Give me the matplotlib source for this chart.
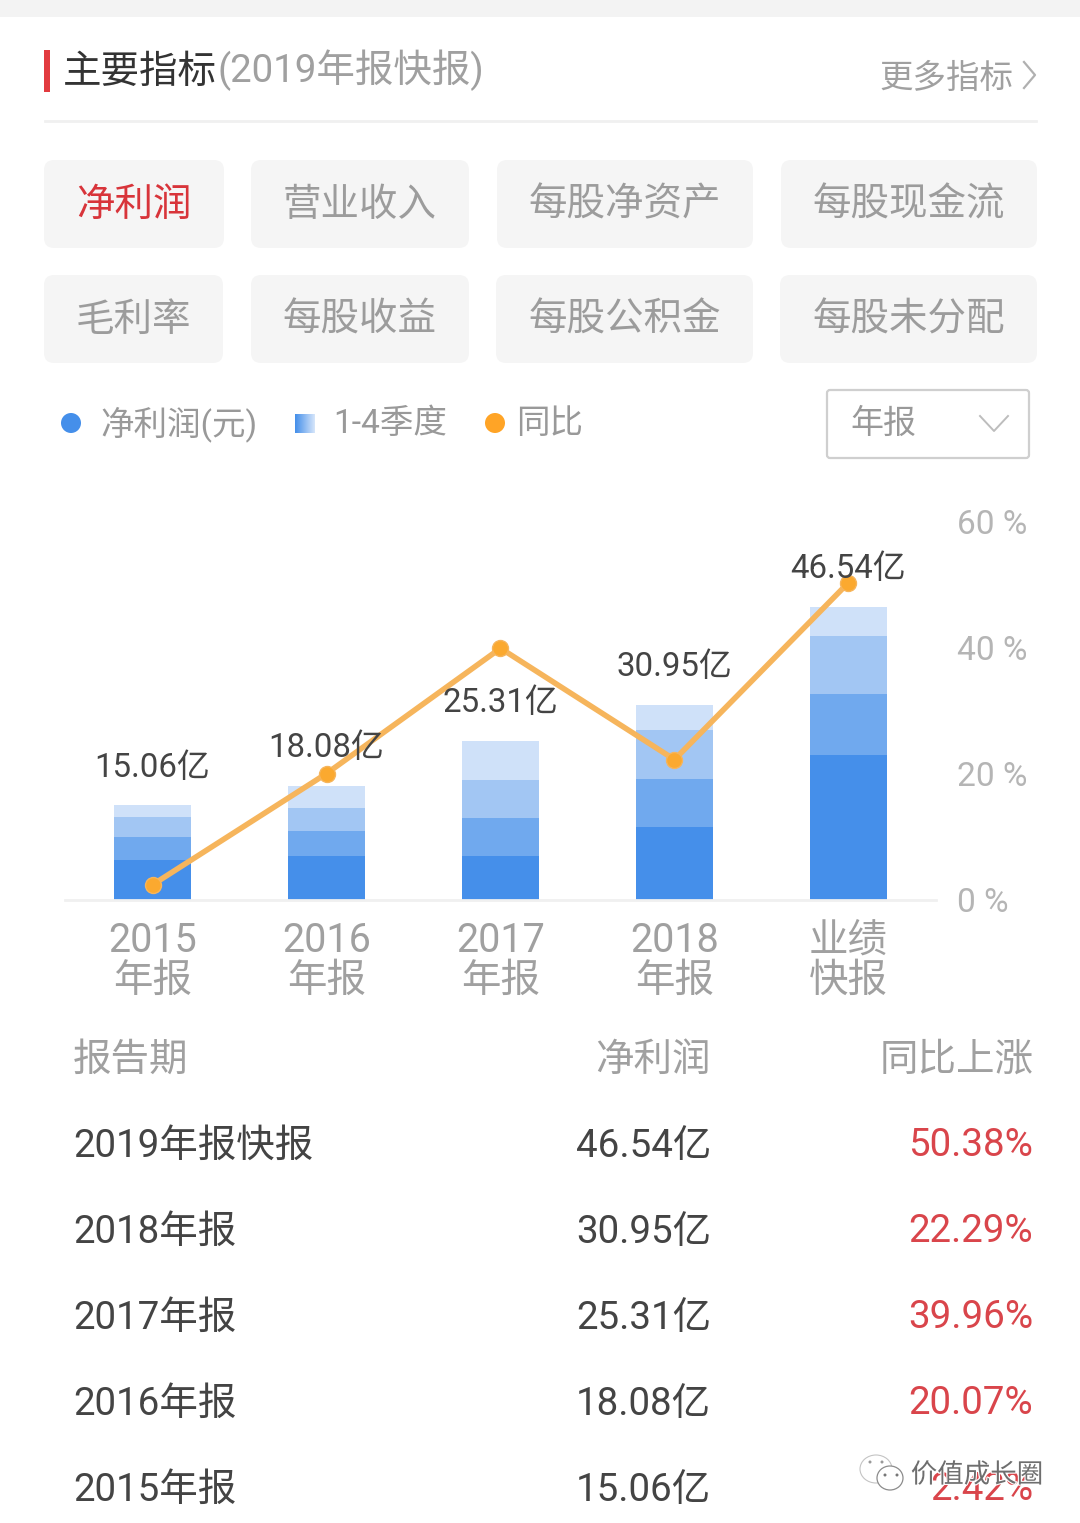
import matplotlib
matplotlib.use("Agg")
import matplotlib.pyplot as plt
import numpy as np
from matplotlib.patches import FancyBboxPatch, Rectangle, Ellipse
import matplotlib.patheffects as pe

plt.rcParams['font.family'] = ['Roboto', 'Noto Sans CJK SC', 'DejaVu Sans']

periods = ['2015\n年报', '2016\n年报', '2017\n年报', '2018\n年报', '业绩\n快报']
q1 = [6.35, 6.98, 6.98, 11.60, 23.00]
q2 = [3.65, 3.97, 6.03, 7.60, 9.70]
q3 = [3.17, 3.65, 6.03, 7.80, 9.20]
q4 = [1.89, 3.48, 6.27, 3.95, 4.64]
yoy = [2.42, 20.07, 39.96, 22.29, 50.38]
profit_labels = ['15.06亿', '18.08亿', '25.31亿', '30.95亿', '46.54亿']

row_names = ['2019年报快报', '2018年报', '2017年报', '2016年报', '2015年报']
row_profit = ['46.54亿', '30.95亿', '25.31亿', '18.08亿', '15.06亿']
row_yoy = ['50.38%', '22.29%', '39.96%', '20.07%', '2.42%']
buttons_row1 = ['净利润', '营业收入', '每股净资产', '每股现金流']
buttons_row2 = ['毛利率', '每股收益', '每股公积金', '每股未分配']
pct_ticks = [0, 20, 40, 60]
seg_colors = ['#458FEA', '#70A9EE', '#A2C6F3', '#CFE1F9']

W, H = 1080, 1523
fig = plt.figure(figsize=(W / 100, H / 100), dpi=100, facecolor='white')


def px(s):
    return s * 0.72


# page overlay in pixel coordinates
ui = fig.add_axes([0, 0, 1, 1], zorder=3)
ui.set_xlim(0, W)
ui.set_ylim(H, 0)
ui.axis('off')
ui.patch.set_alpha(0)

ui.add_patch(Rectangle((0, 0), W, 17, fc='#F3F3F3', ec='none'))
ui.add_patch(Rectangle((44, 50), 6, 42, fc='#E23B3F', ec='none'))
ui.text(63, 72, '主要指标', fontsize=px(38.5), color='#333333', va='center', ha='left')
ui.text(218, 70, '(2019年报快报)', fontsize=px(38.5), color='#A0A0A0', va='center', ha='left')
ui.text(879, 79, '更多指标', fontsize=px(33.5), color='#A0A0A0', va='center', ha='left')
ui.plot([1024, 1035, 1024], [62, 75, 88], color='#B0B0B0', lw=1.6)
ui.plot([45, 1036], [121, 121], color='#F0F0F0', lw=2)


def button(x0, x1, y0, y1, label, color='#9C9C9C'):
    ui.add_patch(FancyBboxPatch((x0 + 10, y0 + 10), x1 - x0 - 20, y1 - y0 - 20,
                                boxstyle='round,pad=10,rounding_size=10',
                                fc='#F5F5F5', ec='none'))
    ui.text((x0 + x1) / 2, (y0 + y1) / 2 + 1, label, fontsize=px(38.5), color=color,
            ha='center', va='center')


xs1 = [(44, 224), (251, 469), (497, 753), (781, 1037)]
xs2 = [(44, 223), (251, 469), (496, 753), (780, 1037)]
for i, (x, lab) in enumerate(zip(xs1, buttons_row1)):
    button(x[0], x[1], 160, 248, lab, '#D8343A' if i == 0 else '#9C9C9C')
for x, lab in zip(xs2, buttons_row2):
    button(x[0], x[1], 275, 363, lab)

# legend
ui.add_patch(Ellipse((71, 423), 20, 20, fc='#458FEA', ec='none'))
ui.text(100, 424, '净利润(元)', fontsize=px(33.5), color='#999999', va='center', ha='left')
grad = np.linspace(0, 1, 32).reshape(1, -1)
cm = matplotlib.colors.LinearSegmentedColormap.from_list('g', ['#458FEA', '#D5E5FA'])
ui.imshow(grad, extent=(295, 315, 433, 414), cmap=cm, aspect='auto', zorder=2)
ui.set_xlim(0, W)
ui.set_ylim(H, 0)
ui.text(333, 424, '1-4季度', fontsize=px(33.5), color='#999999', va='center', ha='left')
ui.add_patch(Ellipse((495, 423), 20, 20, fc='#FFA426', ec='none'))
ui.text(516, 424, '同比', fontsize=px(33.5), color='#999999', va='center', ha='left')

# dropdown
ui.add_patch(FancyBboxPatch((828, 391), 200, 66, boxstyle='round,pad=1,rounding_size=3',
                            fc='white', ec='#CFCFCF', lw=1.6))
ui.text(850, 424, '年报', fontsize=px(33), color='#999999', va='center', ha='left')
ui.plot([980, 994, 1008], [416, 431, 416], color='#BDBDBD', lw=1.4)

# chart
ax = fig.add_axes([65 / W, 1 - 900 / H, 871 / W, 378 / H], zorder=1)
x = np.arange(len(periods))
bottom = np.zeros(len(x))
for vals, c in zip([q1, q2, q3, q4], seg_colors):
    ax.bar(x, vals, width=77 / 174, bottom=bottom, color=c, linewidth=0)
    bottom += np.array(vals)
ax.set_xlim(-0.503, 4.503)
ax.set_ylim(0, 60)
ax.set_xticks(x, periods, fontsize=px(39.5), color='#A0A0A0', linespacing=1.04)
ax.set_yticks([])
ax.tick_params(axis='x', length=0, pad=15)
for s in ['top', 'left', 'right']:
    ax.spines[s].set_visible(False)
ax.spines['bottom'].set_color('#F0F0F0')
ax.spines['bottom'].set_linewidth(2)
ax.patch.set_alpha(0)

ax2 = ax.twinx()
ax2.set_ylim(0, 60)
ax2.plot(x, yoy, color='#F6B55C', lw=4.0, marker='o', ms=11.5,
         mfc='#FBA92F', mec='#F6B55C', mew=1, solid_joinstyle='miter', zorder=5)
ax2.set_yticks(pct_ticks, [f'{v} %' for v in pct_ticks], fontsize=px(33.5), color='#B5B5B5')
ax2.tick_params(axis='y', length=0, pad=15)
for s in ax2.spines.values():
    s.set_visible(False)
ax2.patch.set_alpha(0)

label_y = [768, 748, 703, 667, 569]
for xi, lab, ly in zip(x, profit_labels, label_y):
    ui.text(152.5 + 174 * xi, ly, lab, fontsize=px(33), color='#444444', ha='center', va='center')

# table
rows_y = [1146, 1232, 1318, 1404, 1490]
ui.text(73, 1060, '报告期', fontsize=px(38.5), color='#A0A0A0', va='center', ha='left')
ui.text(711, 1060, '净利润', fontsize=px(38.5), color='#A0A0A0', va='center', ha='right')
ui.text(1034, 1060, '同比上涨', fontsize=px(38.5), color='#A0A0A0', va='center', ha='right')
for y, a, b, c in zip(rows_y, row_names, row_profit, row_yoy):
    ui.text(73, y, a, fontsize=px(38.5), color='#444444', va='center', ha='left')
    ui.text(711, y, b, fontsize=px(38.5), color='#444444', va='center', ha='right')
    ui.text(1033, y, c, fontsize=px(38.5), color='#D9454B', va='center', ha='right')

# watermark
ui.add_patch(Ellipse((876, 1469), 32, 28, fc='white', ec='#C4C4C4', lw=0.8, zorder=6))
ui.add_patch(Ellipse((890, 1478), 26, 24, fc='white', ec='#8C8C8C', lw=0.9, zorder=6))
for ex, ey, ec in [(870, 1462, '#999999'), (882, 1462, '#999999'),
                   (885, 1475, '#777777'), (897, 1475, '#777777')]:
    ui.add_patch(Ellipse((ex, ey), 3, 3, fc=ec, ec='none', zorder=7))
ui.text(977, 1475, '价值成长圈', fontsize=px(26.5), color='#6E6E6E', ha='center', va='center', zorder=8,
        path_effects=[pe.withStroke(linewidth=1.6, foreground='white')])

fig.savefig('out.png', dpi=100, facecolor='white')
